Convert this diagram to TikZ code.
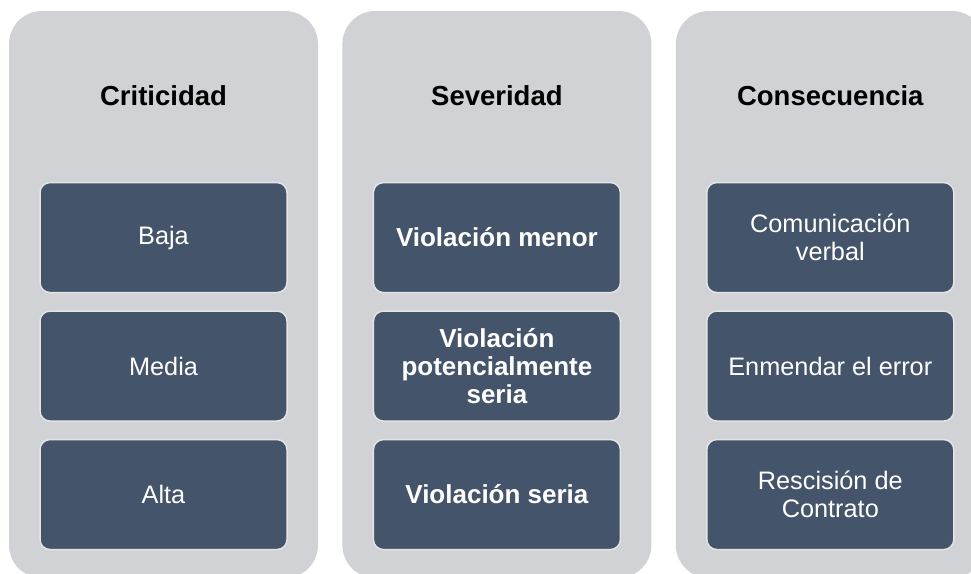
\documentclass[tikz,border=0pt]{standalone}
\usepackage{fontspec}
\setmainfont{Liberation Sans}
\usetikzlibrary{positioning}

\definecolor{colgris}{HTML}{D1D2D6}
\definecolor{pizarra}{HTML}{44546A}
\definecolor{bordegris}{HTML}{E4E4E6}

\tikzset{
  columna/.style={fill=colgris, rounded corners=33pt, minimum width=309pt, minimum height=567pt, inner sep=0pt},
  titulo/.style={font=\bfseries\fontsize{27.5}{30}\selectfont, inner sep=0pt},
  caja/.style={fill=pizarra, draw=bordegris, line width=1.5pt, rounded corners=10pt,
    minimum width=247pt, minimum height=110pt, text=white, align=center,
    font=\fontsize{25.3}{28}\selectfont},
  cajab/.style={caja, font=\bfseries\fontsize{26}{28}\selectfont}
}

\begin{document}
\begin{tikzpicture}
      \useasboundingbox (0,0) rectangle (971pt,-573pt);
      \fill[white] (0,0) rectangle (971pt,-573pt);
      % Define columns
      \node[columna] (colA) at (163.5pt,-294.5pt) {};
      \node[columna, right=24pt of colA] (colB) {};
      \node[columna, right=24pt of colB] (colC) {};
      % Titles
      \node[titulo, anchor=base] (tA) at ([yshift=-95pt]colA.north) {Criticidad};
      \node[titulo, anchor=base] (tB) at ([yshift=-95pt]colB.north) {Severidad};
      \node[titulo, anchor=base] (tC) at ([yshift=-95pt]colC.north) {Consecuencia};
      % Criticidad
      \node[caja, below=171pt of colA.north] (a1) {Baja};
      \node[caja, below=17pt of a1] (a2) {Media};
      \node[caja, below=17pt of a2] (a3) {Alta};
      % Severidad
      \node[cajab, below=171pt of colB.north] (b1) {Violación menor};
      \node[cajab, below=17pt of b1] (b2) {Violación\\potencialmente\\seria};
      \node[cajab, below=17pt of b2] (b3) {Violación seria};
      % Consecuencia
      \node[caja, below=171pt of colC.north] (c1) {Comunicación\\verbal};
      \node[caja, below=17pt of c1] (c2) {Enmendar el error};
      \node[caja, below=17pt of c2] (c3) {Rescisión de\\Contrato};
    \end{tikzpicture}
\end{document}
